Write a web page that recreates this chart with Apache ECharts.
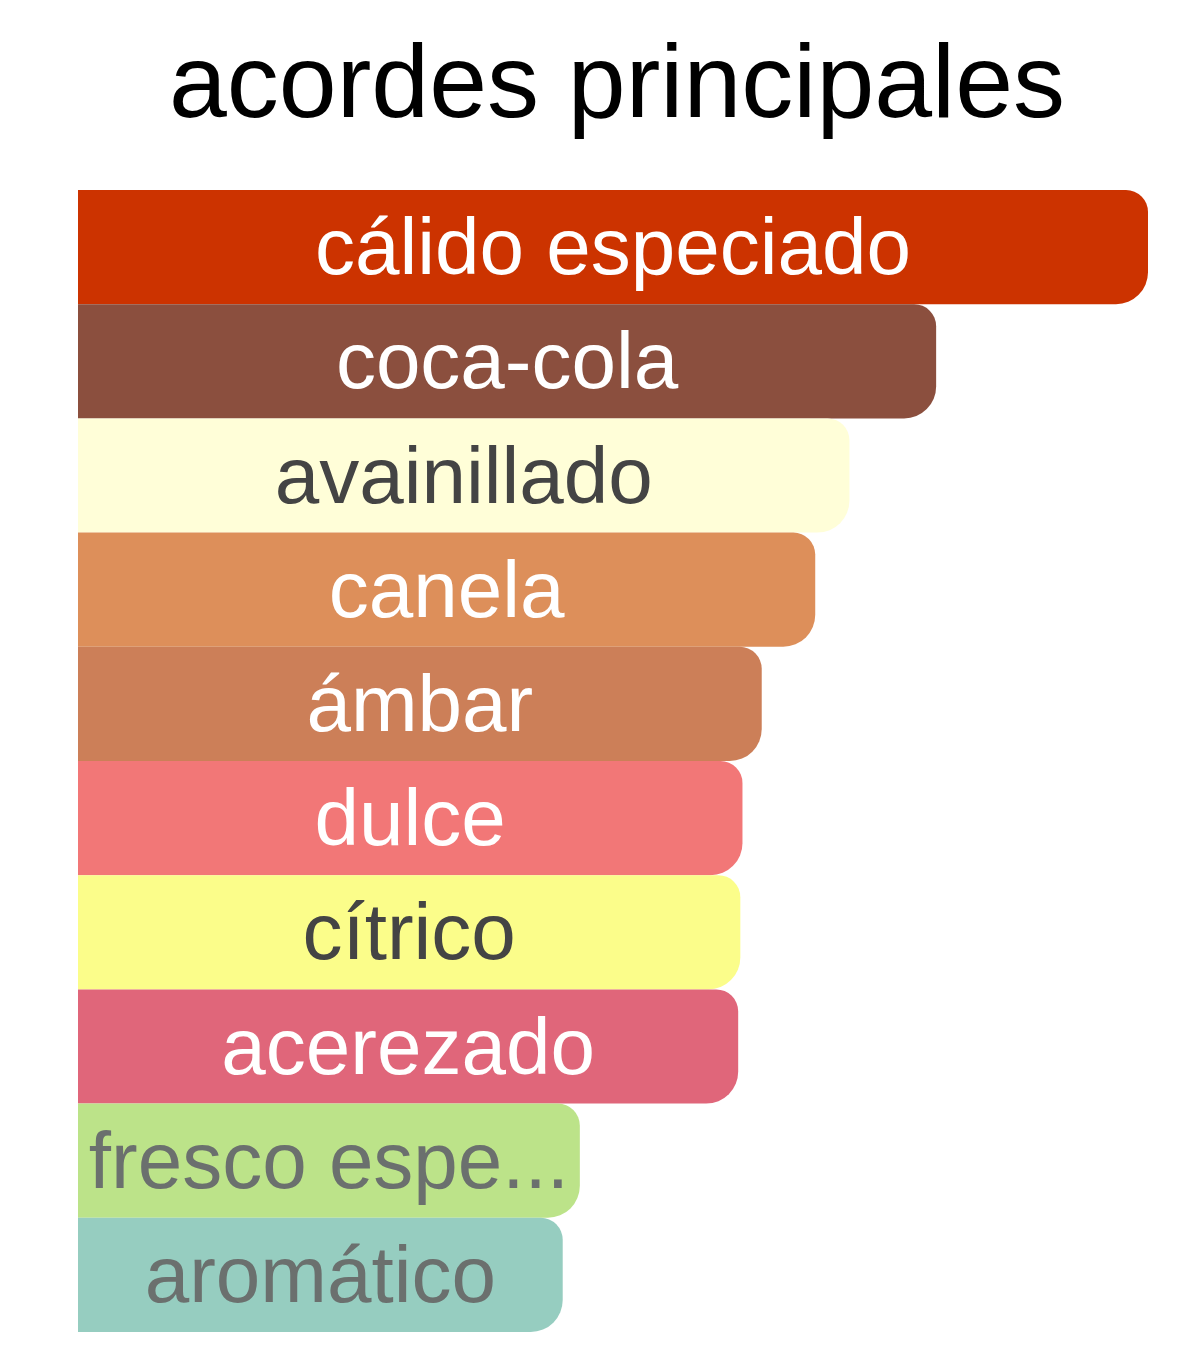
<!DOCTYPE html>
<html>
<head>
<meta charset="utf-8">
<style>
html,body{margin:0;padding:0;background:#fff;}
#c{width:1200px;height:1362px;}
</style>
<script src="https://cdn.jsdelivr.net/npm/echarts@6/dist/echarts.min.js"></script>
</head>
<body>
<div id="c"></div>
<script>
var titleText = 'acordes principales';
var categories = ['cálido especiado','coca-cola','avainillado','canela','ámbar','dulce','cítrico','acerezado','fresco especiado','aromático'];
var values = [100, 80.2, 72.1, 68.9, 63.9, 62.1, 61.9, 61.7, 46.9, 45.3];
var barColors = ['#cc3300','#8b4f3e','#fffed8','#dd8f5a','#cc7f58','#f27777','#fbfd8a','#e0667a','#bce389','#96cdc0'];
var textColors = ['#ffffff','#ffffff','#444444','#ffffff','#ffffff','#ffffff','#444444','#ffffff','#6b706e','#6b706e'];

var chart = echarts.init(document.getElementById('c'), null, {renderer:'canvas'});
var FONT = '"Liberation Sans", Arial, Helvetica, sans-serif';

function buildData(widths){
  return values.map(function(v,i){
    var lab = {color:textColors[i]};
    if (widths) { lab.width = widths[i]; lab.overflow = 'truncate'; }
    return {value:v, name:categories[i], itemStyle:{color:barColors[i]}, label:lab};
  });
}

var option = {
  animation:false,
  backgroundColor:'#ffffff',
  title:{
    text:titleText, left:612, top:31, textAlign:'center',
    textStyle:{fontFamily:FONT, fontSize:104, fontWeight:'normal', color:'#000'}
  },
  grid:{left:78, right:52, top:190, bottom:30, containLabel:false},
  xAxis:{type:'value', min:0, max:100, show:false},
  yAxis:{type:'category', data:categories, inverse:true, show:false},
  series:[{
    type:'bar',
    barWidth:'100%',
    barCategoryGap:0,
    itemStyle:{borderRadius:[0,22,32,0]},
    label:{show:true, position:'inside', formatter:'{b}', fontFamily:FONT, fontSize:80, offset:[0,5]},
    data:buildData(null)
  }]
};
chart.setOption(option);
var x0 = chart.convertToPixel({xAxisIndex:0}, 0);
var widths = values.map(function(v){ return chart.convertToPixel({xAxisIndex:0}, v) - x0; });
chart.setOption({series:[{data:buildData(widths)}]});
</script>
</body>
</html>
